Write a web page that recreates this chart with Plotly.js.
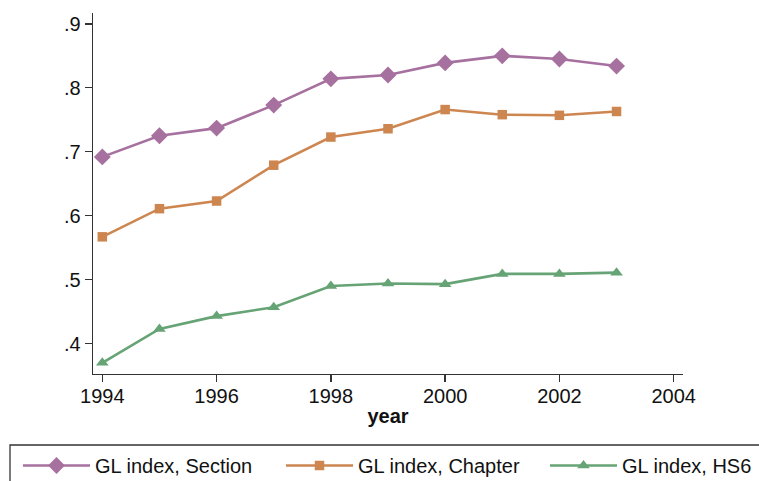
<!DOCTYPE html>
<html><head><meta charset="utf-8">
<script src="https://cdn.plot.ly/plotly-3.0.1.min.js"></script>
<style>body{margin:0;background:#fff}#chart{width:759px;height:481px}</style>
</head><body><div id="chart"></div>
<script>
const years = [1994,1995,1996,1997,1998,1999,2000,2001,2002,2003];
const glSection = [0.692,0.725,0.737,0.773,0.814,0.820,0.839,0.850,0.845,0.834];
const glChapter = [0.567,0.611,0.623,0.679,0.723,0.736,0.766,0.758,0.757,0.763];
const glHS6 = [0.370,0.423,0.443,0.457,0.490,0.494,0.493,0.509,0.509,0.511];
const seriesNames = ['GL index, Section','GL index, Chapter','GL index, HS6'];
const xTicks = [1994,1996,1998,2000,2002,2004];
const yTicks = [0.4,0.5,0.6,0.7,0.8,0.9];
const yTickText = ['.4','.5','.6','.7','.8','.9'];

const FONT = 'Liberation Sans, Arial, Helvetica, sans-serif';
const FS = 20;
const traces = [
  {x: years, y: glSection, name: seriesNames[0], mode:'lines+markers', legend:'legend',
   line:{color:'#a6709f', width:2.6}, marker:{symbol:'diamond', size:13, color:'#a6709f'}},
  {x: years, y: glChapter, name: seriesNames[1], mode:'lines+markers', legend:'legend2',
   line:{color:'#cd8650', width:2.6}, marker:{symbol:'square', size:9.5, color:'#cd8650'}},
  {x: years, y: glHS6, name: seriesNames[2], mode:'lines+markers', legend:'legend3',
   line:{color:'#66a375', width:2.6}, marker:{symbol:'triangle-up', size:11, color:'#66a375'}}
];
const PW = 590, PH = 361, PL = 93, PB = 374;
function leg(px) {
  return {orientation:'h', x:(px-PL)/PW, xanchor:'left', y:(PB-446)/PH, yanchor:'top',
    itemwidth:67, bgcolor:'rgba(0,0,0,0)', borderwidth:0,
    font:{family:FONT, size:FS, color:'#111'}};
}
const layout = {
  width:759, height:481,
  margin:{l:93, r:76, t:13, b:107, autoexpand:false},
  paper_bgcolor:'#fff', plot_bgcolor:'#fff',
  font:{family:FONT, size:FS, color:'#111'},
  showlegend:true,
  xaxis:{range:[1993.837,2004.163], tickvals:xTicks, ticktext:xTicks.map(String),
    showgrid:false, zeroline:false, showline:true, linecolor:'#333', linewidth:1.3,
    ticks:'outside', ticklen:7, tickcolor:'#333', tickwidth:1.3, automargin:false,
    ticklabelstandoff:-3,
    tickfont:{family:FONT, size:FS, color:'#111'},
    title:{text:'<b>year</b>', font:{family:FONT, size:FS, color:'#111'}, standoff:2}},
  yaxis:{range:[0.3525,0.917], tickvals:yTicks, ticktext:yTickText, automargin:false,
    showgrid:false, zeroline:false, showline:true, linecolor:'#333', linewidth:1.3,
    ticks:'outside', ticklen:7, tickcolor:'#333', tickwidth:1.3,
    tickfont:{family:FONT, size:FS, color:'#111'}},
  legend: leg(18), legend2: leg(281), legend3: leg(545),
  shapes:[{type:'rect', xref:'paper', yref:'paper', x0:(10-PL)/PW, x1:(765-PL)/PW,
    y0:(PB-445)/PH, y1:(PB-495)/PH, line:{color:'#333', width:1.3}, fillcolor:'rgba(0,0,0,0)'}]
};
Plotly.newPlot('chart', traces, layout, {displayModeBar:false, staticPlot:true});
</script></body></html>
